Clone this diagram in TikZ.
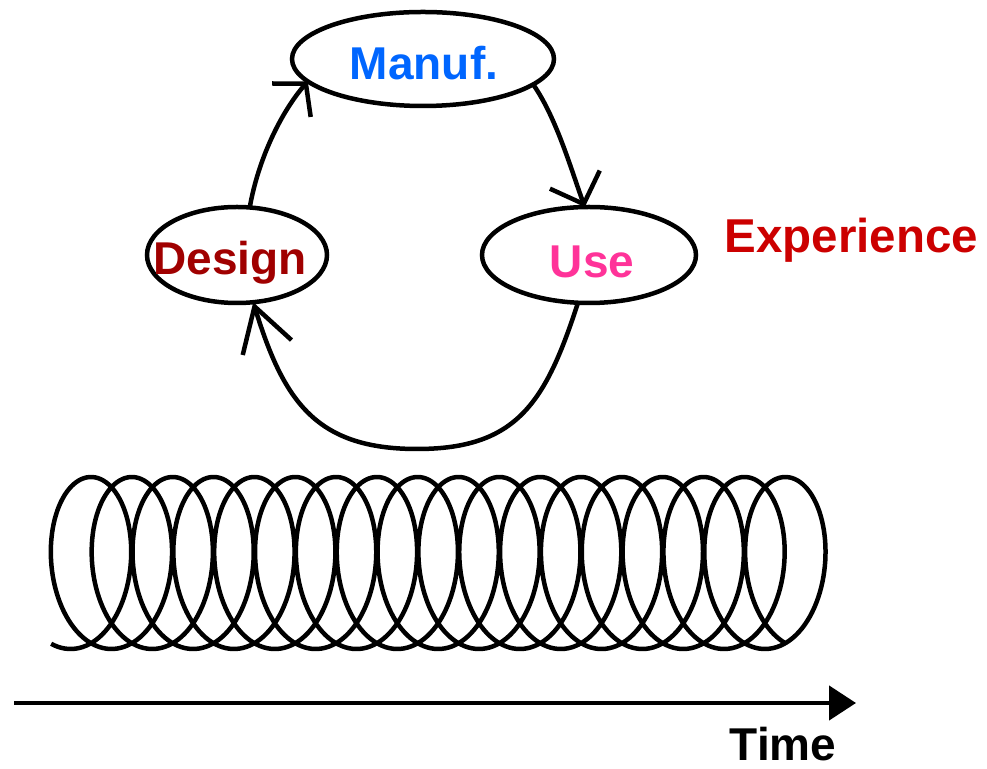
\documentclass[tikz,border=0pt]{standalone}
\usepackage{fontspec}
\setmainfont{Liberation Sans}
\usetikzlibrary{shapes.geometric,arrows.meta}
\definecolor{manufblue}{RGB}{0,102,255}
\definecolor{designred}{RGB}{160,0,0}
\definecolor{usepink}{RGB}{255,51,153}
\definecolor{expred}{RGB}{204,0,0}
\begin{document}
\begin{tikzpicture}[x=1pt,y=1pt,
  stage/.style={ellipse,draw=black,line width=4.5pt,inner sep=0pt,outer sep=0pt},
  caption/.style={anchor=base,inner sep=0pt,font=\fontsize{46}{55}\selectfont\bfseries},
  flow/.style={line width=4.5pt,line join=round}]
\useasboundingbox (0,0) rectangle (987,768);

% the cycle of stages
\node[stage, minimum width=262pt, minimum height=94pt] (manuf)  at (423,709) {};
\node[stage, minimum width=180pt, minimum height=96pt] (design) at (237,513) {};
\node[stage, minimum width=214pt, minimum height=96pt] (use)    at (589,513) {};
\coordinate (loopbottom) at (417,319);

\draw[flow, -{Straight Barb[length=22pt,width=51pt]}]
  (design.75) .. controls +(80:50) and +(229:40) .. (manuf.191);
\draw[flow, -{Straight Barb[length=26pt,width=53pt]}]
  (manuf.347) .. controls +(-55:40) and +(110:40) .. (use.95);
\draw[flow, -{Straight Barb[length=43pt,width=51pt]}]
  (use.257) .. controls +(252:105) and +(0:100) .. (loopbottom)
  .. controls +(180:100) and +(287:105) .. (design.289);

\node[caption, text=manufblue] (manuftxt) at (424,688) {Manuf.};
\node[caption, text=designred] (designtxt) at (230,493) {Design};
\node[caption, text=usepink] (usetxt) at (592,490) {Use};
\node[caption, text=expred, font=\fontsize{47.5}{56}\selectfont\bfseries] (exptxt) at (851.5,515) {Experience};

% the coil of repeated cycles
\draw[line width=4.5pt, line join=round]
  plot[variable=\t, domain=-0.35:112.75, samples=1800]
  ({70.6+6.5*\t+50*sin(\t r)},{205-86*cos(\t r)});

% time axis
\coordinate (tstart) at (14,65);
\coordinate (tend) at (856,65);
\draw[line width=4.5pt, -{Triangle[length=27pt,width=34pt]}] (tstart) -- (tend);
\node[caption, text=black] (timetxt) at (783,8) {Time};
\end{tikzpicture}
\end{document}
